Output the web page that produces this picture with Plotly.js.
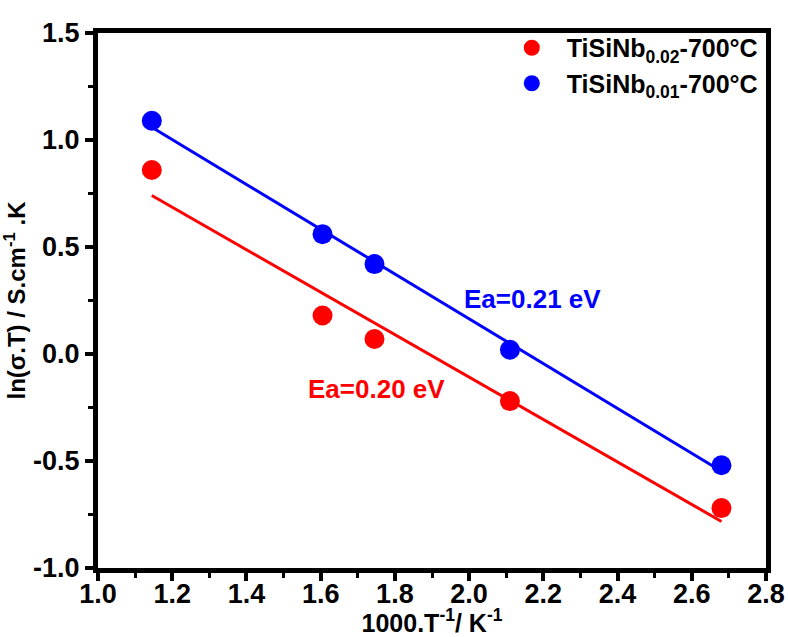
<!DOCTYPE html>
<html><head><meta charset="utf-8">
<script src="https://cdn.plot.ly/plotly-3.0.1.min.js"></script>
<style>html,body{margin:0;padding:0;background:#fff}#plot{width:788px;height:637px}</style>
</head><body><div id="plot"></div>
<script>
// Data
const invT = [1.145, 1.605, 1.745, 2.11, 2.68];
const lnSigmaT_Nb002 = [0.86, 0.18, 0.07, -0.22, -0.72];
const lnSigmaT_Nb001 = [1.09, 0.56, 0.42, 0.02, -0.52];
const seriesNames = ['TiSiNb<sub>0.02</sub>-700°C', 'TiSiNb<sub>0.01</sub>-700°C'];
const eaLabels = ['Ea=0.20 eV', 'Ea=0.21 eV'];
const xTicks = [1.0, 1.2, 1.4, 1.6, 1.8, 2.0, 2.2, 2.4, 2.6, 2.8];
const yTicks = [-1.0, -0.5, 0.0, 0.5, 1.0, 1.5];

function linfit(x, y) {
  const n = x.length;
  const mx = x.reduce((a, b) => a + b, 0) / n;
  const my = y.reduce((a, b) => a + b, 0) / n;
  let sxy = 0, sxx = 0;
  for (let i = 0; i < n; i++) { sxy += (x[i] - mx) * (y[i] - my); sxx += (x[i] - mx) ** 2; }
  const m = sxy / sxx, b = my - m * mx;
  const xs = [Math.min(...x), Math.max(...x)];
  return { x: xs, y: xs.map(v => m * v + b) };
}

const RED = '#ff0000', BLUE = '#0000ff';
const fitR = linfit(invT, lnSigmaT_Nb002);
const fitB = linfit(invT, lnSigmaT_Nb001);
const BF = 'Liberation Sans, Arial, sans-serif';

const traces = [
  { x: fitR.x, y: fitR.y, mode: 'lines', line: { color: RED, width: 3 }, showlegend: false, hoverinfo: 'skip' },
  { x: fitB.x, y: fitB.y, mode: 'lines', line: { color: BLUE, width: 3 }, showlegend: false, hoverinfo: 'skip' },
  { x: invT, y: lnSigmaT_Nb002, mode: 'markers', name: seriesNames[0], marker: { color: RED, size: 20 } },
  { x: invT, y: lnSigmaT_Nb001, mode: 'markers', name: seriesNames[1], marker: { color: BLUE, size: 20 } }
];

const axisCommon = {
  showgrid: false, zeroline: false, showline: true, linecolor: '#000', linewidth: 5,
  mirror: true, ticks: 'outside', ticklen: 8, tickwidth: 4, tickcolor: '#000'
};

const layout = {
  width: 788, height: 637,
  margin: { l: 98, r: 22, t: 33, b: 69 },
  paper_bgcolor: '#fff', plot_bgcolor: '#fff',
  showlegend: true,
  legend: {
    x: 0.597, y: 1.015, xanchor: 'left', yanchor: 'top',
    font: { family: BF, size: 25, color: '#000', weight: 'bold' },
    bgcolor: 'rgba(0,0,0,0)', tracegroupgap: 4, itemwidth: 60
  },
  xaxis: Object.assign({}, axisCommon, {
    range: [1.0, 2.8], tickmode: 'array', tickvals: xTicks,
    ticktext: xTicks.map(v => v.toFixed(1)),
    tickfont: { family: BF, size: 27, color: '#000', weight: 'bold' },
    ticklabelstandoff: -10,
    minor: { dtick: 0.1, ticks: 'outside', ticklen: 5, tickwidth: 3, tickcolor: '#000', showgrid: false },
    title: { text: '1000.T<sup>-1</sup>/ K<sup>-1</sup>', font: { family: BF, size: 25, color: '#000', weight: 'bold' }, standoff: 0 }
  }),
  yaxis: Object.assign({}, axisCommon, {
    range: [-1.0, 1.5], tickmode: 'array', tickvals: yTicks,
    ticktext: yTicks.map(v => v.toFixed(1)),
    tickfont: { family: BF, size: 27, color: '#000', weight: 'bold' },
    minor: { dtick: 0.25, ticks: 'outside', ticklen: 5, tickwidth: 3, tickcolor: '#000', showgrid: false },
    title: { text: 'ln(σ.T) / S.cm<sup>-1</sup> .K', font: { family: BF, size: 24, color: '#000', weight: 'bold' }, standoff: 2 }
  }),
  annotations: [
    { x: 1.751, y: -0.165, xref: 'x', yref: 'y', text: eaLabels[0], showarrow: false,
      font: { family: BF, size: 26, color: RED, weight: 'bold' } },
    { x: 2.17, y: 0.255, xref: 'x', yref: 'y', text: eaLabels[1], showarrow: false,
      font: { family: BF, size: 26, color: BLUE, weight: 'bold' } }
  ]
};

Plotly.newPlot('plot', traces, layout, { displayModeBar: false, staticPlot: true });
</script></body></html>
